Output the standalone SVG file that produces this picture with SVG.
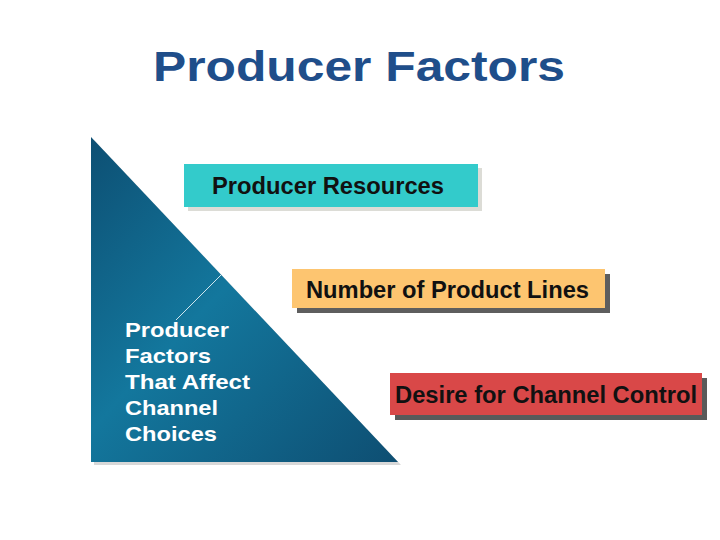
<svg xmlns="http://www.w3.org/2000/svg" width="720" height="540" viewBox="0 0 720 540">
<defs>
<linearGradient id="tri" x1="0" y1="0" x2="1" y2="1" gradientUnits="objectBoundingBox">
<stop offset="0" stop-color="#0D4F73"/>
<stop offset="0.45" stop-color="#13779D"/>
<stop offset="1" stop-color="#0E4E72"/>
</linearGradient>
<style>
.box{font-family:"Liberation Sans",Arial,sans-serif;font-weight:bold;font-size:23px;fill:#111}
.tri{font-family:"Liberation Sans",Arial,sans-serif;font-weight:bold;font-size:21px;fill:#fff}
</style>
</defs>
<rect width="720" height="540" fill="#fff"/>
<g id="title">
<text x="153" y="81" font-family="'Liberation Sans',Arial,sans-serif" font-weight="bold" font-size="43" fill="#1F4E8A" textLength="412" lengthAdjust="spacingAndGlyphs">Producer Factors</text>
</g>
<g id="triangle">
<polygon points="94,140 94,465 401,465" fill="#D8D8D8"/>
<polygon points="91,137 91,462 398,462" fill="url(#tri)"/>
<text class="tri" x="125" y="337" textLength="104" lengthAdjust="spacingAndGlyphs">Producer</text>
<text class="tri" x="125" y="363" textLength="86" lengthAdjust="spacingAndGlyphs">Factors</text>
<text class="tri" x="125" y="389" textLength="125" lengthAdjust="spacingAndGlyphs">That Affect</text>
<text class="tri" x="125" y="415" textLength="93" lengthAdjust="spacingAndGlyphs">Channel</text>
<text class="tri" x="125" y="441" textLength="92" lengthAdjust="spacingAndGlyphs">Choices</text>
</g>
<g id="connectors">
<line x1="221" y1="275" x2="176" y2="320" stroke="#cfe6ee" stroke-width="1"/>
</g>
<g id="producer-resources">
<rect x="188" y="168" width="294" height="43" fill="#DCDCD6"/>
<rect x="184" y="164" width="294" height="43" fill="#33CBCB"/>
<text class="box" x="212" y="194" textLength="232" lengthAdjust="spacingAndGlyphs">Producer Resources</text>
</g>
<g id="product-lines">
<rect x="297" y="274" width="313" height="39" fill="#5E5E5E"/>
<rect x="292" y="269" width="313" height="39" fill="#FDC570"/>
<text class="box" x="306" y="298" textLength="283" lengthAdjust="spacingAndGlyphs">Number of Product Lines</text>
</g>
<g id="channel-control">
<rect x="395" y="378" width="312" height="42" fill="#5A5A5A"/>
<rect x="390" y="373" width="312" height="42" fill="#D94848"/>
<text class="box" x="395" y="403" textLength="302" lengthAdjust="spacingAndGlyphs">Desire for Channel Control</text>
</g>
</svg>
